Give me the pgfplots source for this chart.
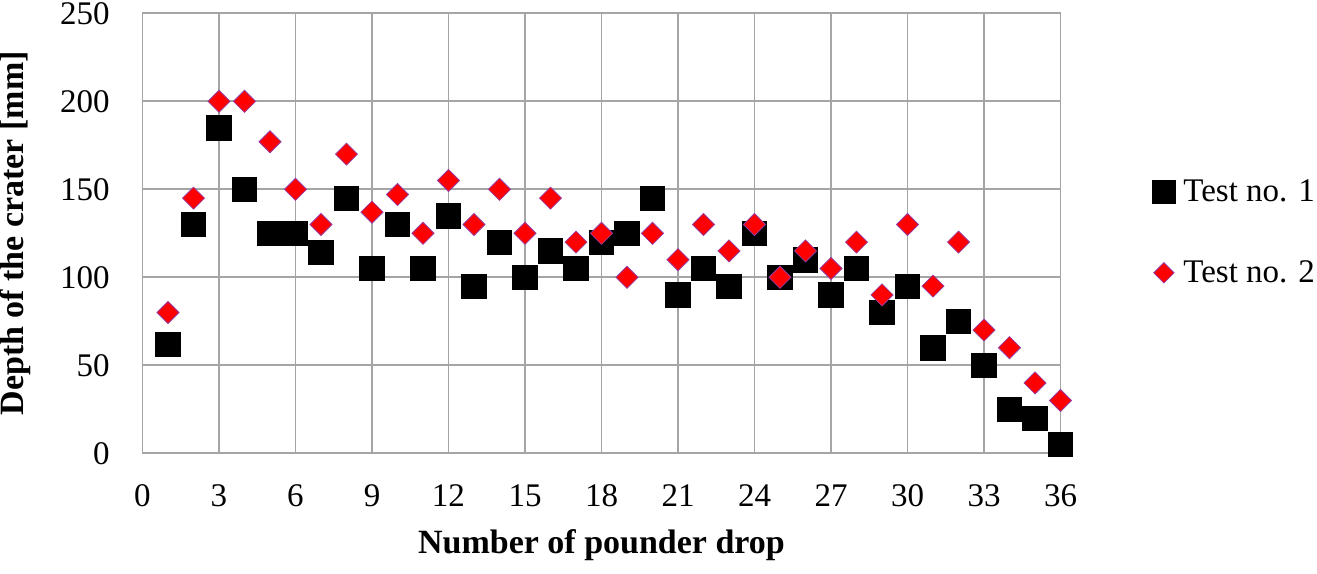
\documentclass[border=0pt]{standalone}
\usepackage{fontspec}
\setmainfont{Liberation Serif}
\usepackage{pgfplots}
\pgfplotsset{compat=1.18}
\definecolor{gridgray}{RGB}{165,165,165}
\definecolor{dmedge}{RGB}{150,60,160}
\begin{document}
\begin{tikzpicture}
\begin{axis}[
  name=ax,
  at={(0,0)}, anchor=south west,
  scale only axis, width=459pt, height=220pt,
  xmin=0, xmax=36, ymin=0, ymax=250,
  xtick={0,3,...,36}, ytick={0,50,...,250},
  major tick length=0pt,
  grid=major,
  grid style={draw=gridgray, line width=0.9pt},
  axis line style={draw=gridgray, line width=0.9pt},
  clip=false,
  /pgf/number format/assume math mode=true,
  tick label style={font=\fontsize{16.5}{18}\selectfont},
  xticklabel style={anchor=center, inner sep=0pt, yshift=-21.35pt},
  yticklabel style={anchor=east, inner sep=0pt, xshift=-16.25pt},
  xlabel={Number of pounder drop},
  ylabel={Depth of the crater [mm]},
  label style={font=\bfseries\fontsize{17}{20}\selectfont, inner sep=0pt},
  xlabel style={at={(axis description cs:0.5,-0.2084)}, anchor=center},
  ylabel style={at={(axis description cs:-0.1383,0.5)}, anchor=center},
  legend style={at={(axis description cs:1.0997,0.502)}, anchor=west, draw=none, fill=none,
    font=\fontsize{16.5}{18}\selectfont, row sep=28pt, inner sep=0pt,
    nodes={inner sep=0pt},
    /tikz/every odd column/.append style={column sep=4pt}},
  legend cell align=left,
]
\addplot[only marks, mark=square*, mark size=6.1pt, mark options={fill=black, draw=black},
  legend image code/.code={\draw[mark=square*, mark size=5.75pt, fill=black, draw=black] plot coordinates {(0pt,0pt)};}]
 coordinates {
 (1,62) (2,130) (3,185) (4,150) (5,125) (6,125) (7,114) (8,145) (9,105) (10,130)
 (11,105) (12,135) (13,95) (14,120) (15,100) (16,115) (17,105) (18,120) (19,125) (20,145)
 (21,90) (22,105) (23,95) (24,125) (25,100) (26,110) (27,90) (28,105) (29,80) (30,95)
 (31,60) (32,75) (33,50) (34,25) (35,20) (36,5)
 };
\addlegendentry{Test no. 1}
\addplot[only marks, mark=square*, mark size=3.9pt, mark options={rotate=45, fill=red, draw=dmedge, line width=0.4pt},
  legend image code/.code={\draw[mark=square*, mark size=3.6pt, mark options={rotate=45}, fill=red, draw=dmedge, line width=0.4pt] plot coordinates {(0pt,0pt)};}]
 coordinates {
 (1,80) (2,145) (3,200) (4,200) (5,177) (6,150) (7,130) (8,170) (9,137) (10,147)
 (11,125) (12,155) (13,130) (14,150) (15,125) (16,145) (17,120) (18,125) (19,100) (20,125)
 (21,110) (22,130) (23,115) (24,130) (25,100) (26,115) (27,105) (28,120) (29,90) (30,130)
 (31,95) (32,120) (33,70) (34,60) (35,40) (36,30)
 };
\addlegendentry{Test no. 2}
\end{axis}
\pgfresetboundingbox
\path ([shift={(-71.25pt,-59.85pt)}]ax.south west) rectangle ([shift={(587.25pt,226.65pt)}]ax.south west);
\end{tikzpicture}
\end{document}
